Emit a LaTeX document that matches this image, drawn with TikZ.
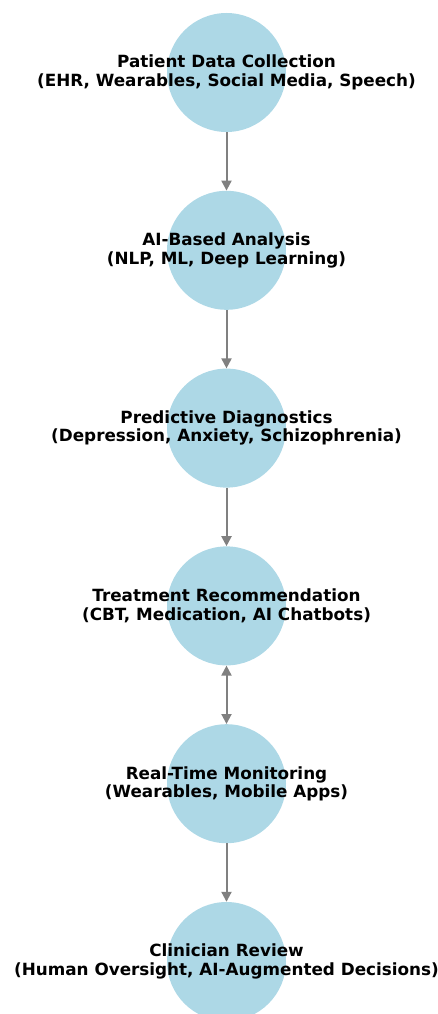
\documentclass[tikz,border=0pt]{standalone}
\usepackage{fontspec}
\setmainfont{DejaVu Sans}
\usetikzlibrary{arrows.meta}
\definecolor{lb}{HTML}{ADD8E6}
\definecolor{eg}{HTML}{808080}
\begin{document}
\begin{tikzpicture}[x=1pt,y=1pt,
  circ/.style={circle,fill=lb,minimum size=119pt,inner sep=0pt},
  lbl/.style={align=center,font=\bfseries\fontsize{16.8}{18.5}\selectfont,text=black},
  conn/.style={draw=eg,line width=2pt,-{Triangle[length=10pt,width=10pt]}},
  bconn/.style={draw=eg,line width=2pt,{Triangle[length=10pt,width=10pt]}-{Triangle[length=10pt,width=10pt]}}]
\useasboundingbox (0,0) rectangle (438,-1014);
\node[circ] (n1) at (226.5,-72.5) {};
\node[circ] (n2) at (226.5,-250.3) {};
\node[circ] (n3) at (226.5,-428.1) {};
\node[circ] (n4) at (226.5,-605.9) {};
\node[circ] (n5) at (226.5,-783.7) {};
\node[circ] (n6) at (226.5,-961.5) {};
\node[lbl] (t1) at (n1) {Patient Data Collection\\(EHR, Wearables, Social Media, Speech)};
\node[lbl] (t2) at (n2) {AI-Based Analysis\\(NLP, ML, Deep Learning)};
\node[lbl] (t3) at (n3) {Predictive Diagnostics\\(Depression, Anxiety, Schizophrenia)};
\node[lbl] (t4) at (n4) {Treatment Recommendation\\(CBT, Medication, AI Chatbots)};
\node[lbl] (t5) at (n5) {Real-Time Monitoring\\(Wearables, Mobile Apps)};
\node[lbl] (t6) at (n6) {Clinician Review\\(Human Oversight, AI-Augmented Decisions)};
\draw[conn] (n1) -- (n2);
\draw[conn] (n2) -- (n3);
\draw[conn] (n3) -- (n4);
\draw[bconn] (n4) -- (n5);
\draw[conn] (n5) -- (n6);
\end{tikzpicture}
\end{document}
